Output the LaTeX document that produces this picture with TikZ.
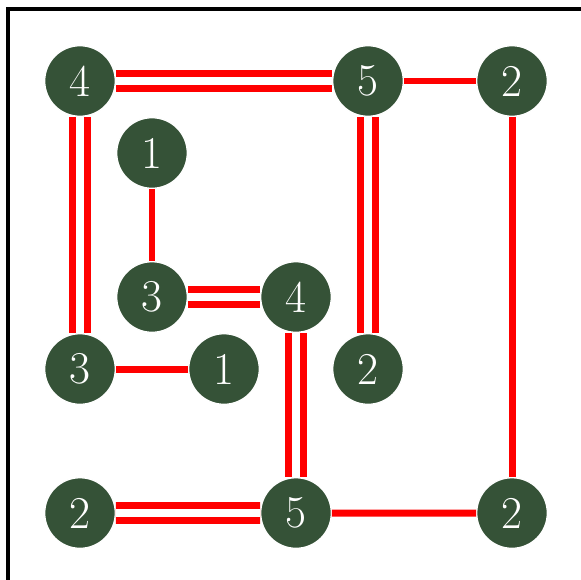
\documentclass[tikz,border=0pt]{standalone}
\usetikzlibrary{positioning}
\definecolor{islandgreen}{RGB}{53,82,55}
\tikzset{node distance=1cm, % One grid step between islands.
island/.style={ % Sets the properties for each island
circle, inner sep=0pt, minimum size=0.98cm,
fill=islandgreen, draw=white, line width=0.5pt,
text=white, font=\fontsize{18}{18}\selectfont},
bridge/.style={ % One bridge
draw=red, line width=0.097cm},
double bridge/.style={ % Two bridges side by side
draw=red, line width=0.097cm, double=white, double distance=0.11cm}}

\begin{document}
\begin{tikzpicture}
                \useasboundingbox (-1.111,1.125) rectangle (6.958,-6.917);
                \draw[line width=1.6pt] (-1,1) rectangle (7,-7);

                \node[island] (0) {4};
                \node[island, right of = 0, xshift=3cm] (1) {5};
                \node[island, right of = 1, xshift=1cm] (2) {2};
                \node[island, below of = 0, xshift=1cm] (3) {1};
                \node[island, below of = 3, yshift=-1cm] (4) {3};
                \node[island, right of = 4, xshift=1cm] (5) {4};
                \node[island, below of = 0, yshift=-3cm] (6) {3};
                \node[island, right of = 6, xshift=1cm] (7) {1};
                \node[island, below of = 1, yshift=-3cm] (8) {2};
                \node[island, below of = 6, yshift=-1cm] (9) {2};
                \node[island, below of = 5, yshift=-2cm] (10) {5};
                \node[island, below of = 2, yshift=-5cm] (11) {2};

                \draw (0) edge[double bridge] (1)
                (1) edge[bridge] (2)
                (0) edge[double bridge] (6)
                (3) edge[bridge] (4)
                (4) edge[double bridge] (5)
                (1) edge[double bridge] (8)
                (5) edge[double bridge] (10)
                (6) edge[bridge] (7)
                (2) edge[bridge] (11)
                (9) edge[double bridge] (10)
                (10) edge[bridge] (11);
            \end{tikzpicture}
\end{document}
